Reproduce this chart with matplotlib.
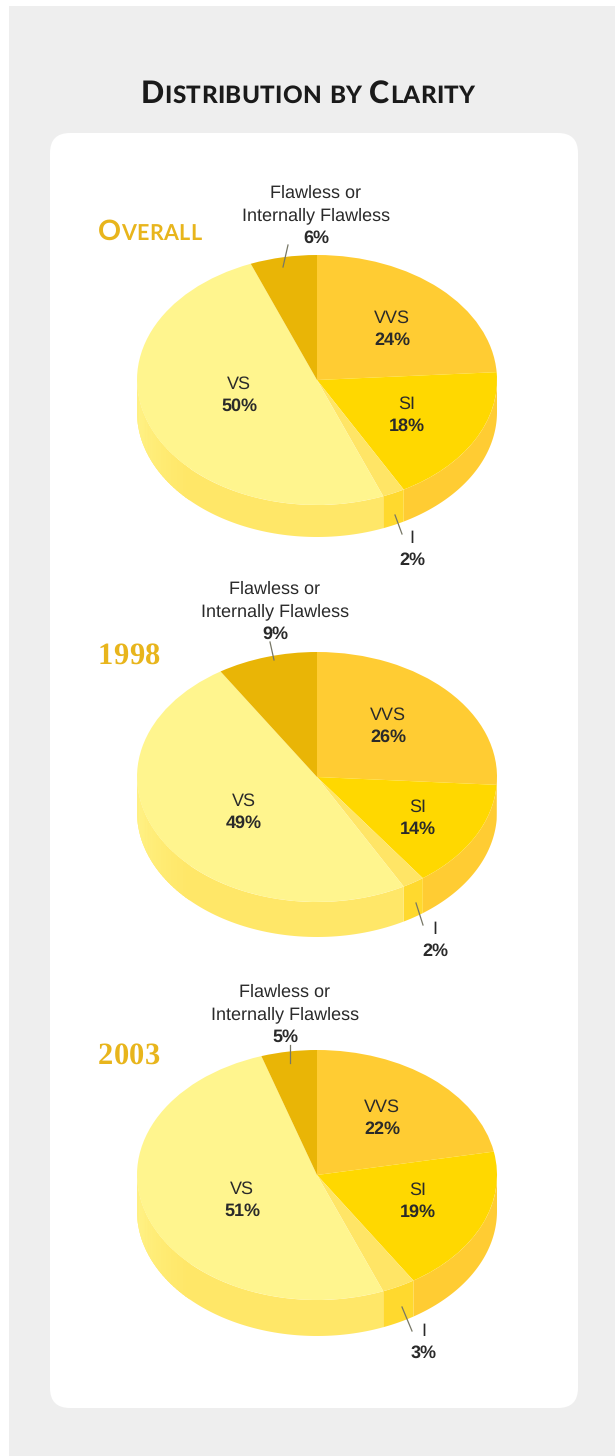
import numpy as np
import matplotlib
matplotlib.use('Agg')
import matplotlib.pyplot as plt
from matplotlib.colors import to_rgb
from matplotlib.patches import FancyBboxPatch, Rectangle

W = 615
H = 1456

# order is clockwise from 12 o'clock
categories = ['VVS', 'SI', 'I', 'VS', 'Flawless or\nInternally Flawless']
overall = [24, 18, 2, 50, 6]
y1998 = [26, 14, 2, 49, 9]
y2003 = [22, 19, 3, 51, 5]
panel_names = ['Overall', '1998', '2003']

top_colors = ['#FFCC33', '#FFD800', '#FFE566', '#FFF58E', '#E9B506']
side_colors = ['#FFCC33', '#FFCC33', '#FFD92E', '#FFE768', '#E9B506']

# pie geometry in pixels: centre x, centre y, x radius, y radius, depth
geom = [(317, 380, 180, 125, 32),
        (317, 777, 180, 125, 35),
        (317, 1175, 180, 125, 36)]

# label positions in pixels
name_pos = [(98, 231), (98, 654), (98, 1054)]
flawless_pos = [(316, 193), (275, 589), (285, 992)]
vvs_pos = [(392, 318), (388, 715), (382, 1107)]
si_pos = [(407, 404), (418, 807), (418, 1190)]
vs_pos = [(239, 384), (244, 801), (242, 1189)]
i_pos = [(412, 538), (435, 929), (424, 1331)]
top_leader = [((288, 245), (283, 267)), ((270, 642), (274, 660)), ((290, 1045), (290, 1063))]
i_leader = [((395, 515), (402, 534)), ((416, 903), (423, 925)), ((402, 1307), (412, 1331))]

plt.rcParams['font.family'] = ['Liberation Sans', 'DejaVu Sans']
plt.rcParams['text.hinting'] = 'no_hinting'
fig = plt.figure(figsize=(W / 100, H / 100), dpi=100, facecolor='white')

bg = fig.add_axes([0, 0, 1, 1], zorder=0)
bg.set_xlim(0, W)
bg.set_ylim(H, 0)
bg.axis('off')
bg.add_patch(Rectangle((9, 6), W - 9, H - 6, fc='#EEEEEE', ec='none'))
bg.add_patch(FancyBboxPatch((70, 153), 488, 1235, boxstyle='round,pad=20,rounding_size=20',
                            fc='white', ec='none'))


def draw_pie(values, g):
    cx, cy, rx, ry, depth = g
    xlim = (-1.05, 1.05)
    ylim = (-1.6, 1.05)
    left = cx + xlim[0] * rx
    bottom = cy - ylim[0] * ry
    ax = fig.add_axes([left / W, 1 - bottom / H, (xlim[1] - xlim[0]) * rx / W,
                       (ylim[1] - ylim[0]) * ry / H], zorder=1)
    ax.patch.set_alpha(0)

    # the rim: an arc band for every slice, only on the front half
    d = depth / ry
    edges = np.cumsum([0] + list(values)) / sum(values) * 2 * np.pi
    for k in range(len(values)):
        a0 = max(edges[k], np.pi / 2)
        a1 = min(edges[k + 1], 3 * np.pi / 2)
        if a1 <= a0:
            continue
        t = np.linspace(a0, a1, 80)
        xs = np.sin(t)
        ys = np.cos(t)
        ax.fill(np.r_[xs, xs[::-1]], np.r_[ys, ys[::-1] - d], color=side_colors[k], lw=0)

    # the rim of the big slice fades into its top on the far left
    fade_from = np.radians(225)
    c0 = np.array(to_rgb(side_colors[3]))
    c1 = np.array(to_rgb(top_colors[3]))
    steps = np.linspace(fade_from, 3 * np.pi / 2, 31)
    for s0, s1 in zip(steps[:-1], steps[1:]):
        t = np.linspace(s0, s1 + 0.01, 6)
        xs = np.sin(t)
        ys = np.cos(t)
        mix = (s0 - fade_from) / (3 * np.pi / 2 - fade_from)
        ax.fill(np.r_[xs, xs[::-1]], np.r_[ys, ys[::-1] - d], color=c0 + (c1 - c0) * mix, lw=0)

    ax.pie(values, colors=top_colors, startangle=90, counterclock=False, radius=1,
           wedgeprops={'linewidth': 0})
    ax.set_aspect('auto')
    ax.set_xlim(*xlim)
    ax.set_ylim(*ylim)
    ax.axis('off')


all_values = [overall, y1998, y2003]
for values, g in zip(all_values, geom):
    draw_pie(values, g)

fg = fig.add_axes([0, 0, 1, 1], zorder=2)
fg.set_xlim(0, W)
fg.set_ylim(H, 0)
fg.axis('off')
fg.patch.set_alpha(0)

label_color = '#2A2A2A'
LABEL_SIZE = 13


def label(pos, name, pct, gap=22.5):
    lines = name.split('\n')
    y = pos[1]
    for line in lines:
        fg.text(pos[0], y, line, ha='center', va='center', fontsize=LABEL_SIZE, color=label_color)
        y += gap
    fg.text(pos[0], y, '%d%%' % pct, ha='center', va='center', fontsize=LABEL_SIZE,
            fontweight='bold', color=label_color)


def small_caps(x, y, word_text, big, small, color, family, center=False, extra=0.3, weight='bold'):
    # fake small caps, upper case letters stay big and the others shrink
    rend = fig.canvas.get_renderer()
    parts = []
    for ch in word_text:
        if ch == ' ':
            parts.append((' ', small))
        elif ch.isupper() or ch.isdigit():
            parts.append((ch, big))
        else:
            parts.append((ch.upper(), small))
    widths = []
    for ch, size in parts:
        if ch == ' ':
            widths.append(size * 0.45)
            continue
        t = fg.text(0, 0, ch, fontsize=size, fontweight=weight, family=family)
        widths.append(t.get_window_extent(rend).width + extra)
        t.remove()
    if center:
        x = x - sum(widths) / 2
    for (ch, size), w in zip(parts, widths):
        if ch != ' ':
            fg.text(x, y, ch, fontsize=size, fontweight=weight, family=family, color=color,
                    ha='left', va='baseline')
        x += w


small_caps(308, 103, 'Distribution by Clarity', 22, 17.5, '#1A1A1A', ['Lato'], center=True,
           extra=0.3, weight='black')

for i, values in enumerate(all_values):
    nx, ny = name_pos[i]
    if i == 0:
        small_caps(nx, ny + 9, panel_names[i], 20.5, 15.5, '#E8B51C', ['Lato'], extra=0.3)
    else:
        small_caps(nx, ny + 10, panel_names[i], 22, 15, '#E8B51C', ['Liberation Serif'], extra=0.3)

    label(vvs_pos[i], categories[0], values[0])
    label(si_pos[i], categories[1], values[1])
    label(i_pos[i], categories[2], values[2])
    label(vs_pos[i], categories[3], values[3])
    label(flawless_pos[i], categories[4], values[4])

    for a, b in (top_leader[i], i_leader[i]):
        fg.plot([a[0], b[0]], [a[1], b[1]], color='#777766', lw=0.9)

fig.savefig('out.png', dpi=100)
